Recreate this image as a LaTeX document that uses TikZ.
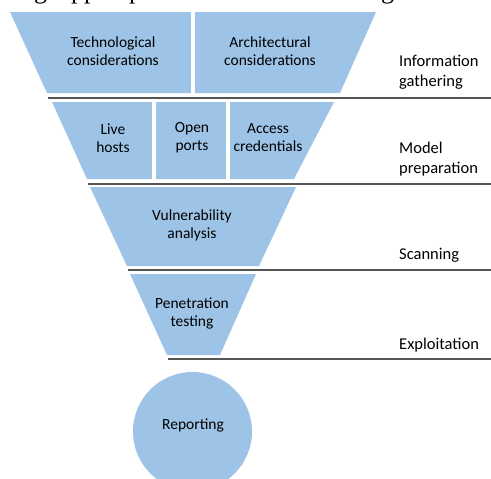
\documentclass[tikz,border=0pt]{standalone}
\usepackage{fontspec}
\setmainfont{Carlito}
\newfontfamily\serifglyph{Liberation Serif}
\definecolor{funnel}{HTML}{9DC3E6}
\definecolor{rulegray}{HTML}{555555}
\begin{document}
\begin{tikzpicture}[x=1pt,y=-1pt,
  seg/.style={fill=funnel, draw=none},
  gapline/.style={white, line width=4pt},
  sepline/.style={draw=rulegray, line width=1.7pt},
  lbl/.style={font=\fontsize{15.5}{18}\selectfont, align=center, inner sep=0pt},
  stage/.style={font=\fontsize{16.5}{20}\selectfont, align=left, anchor=west, inner sep=0pt},
  frag/.style={font=\serifglyph\fontsize{26}{30}\selectfont, anchor=base west, inner sep=0pt},
]
\useasboundingbox (0,0) rectangle (491,479);
\clip (0,0) rectangle (491,479);

% cropped line of text at the top
\node[frag] (f1) at (34,-1.6) {g};
\node[frag] (f2) at (71,-1.6) {p};
\node[frag] (f3) at (84,-1.6) {p};
\node[frag] (f4) at (129,-1.6) {p};
\node[frag] (f5) at (381,-1.6) {g};

% row 1
\fill[seg] (10,12) -- (376,12) -- (340,93) -- (47,93) -- cycle;
\draw[gapline] (193,10) -- (193,95);
\draw[sepline] (48,97.7) -- (491,97.7);
\node[lbl] (tech) at (113,51) {Technological\\considerations};
\node[lbl] (arch) at (270,51) {Architectural\\considerations};
\node[stage] (info) at (399,72) {Information\\gathering};

% row 2
\fill[seg] (52,102) -- (334,102) -- (294,179) -- (87,179) -- cycle;
\draw[gapline] (154,100) -- (154,181);
\draw[gapline] (228,100) -- (228,181);
\draw[sepline] (88,184) -- (491,184);
\node[lbl] (live) at (113,138) {Live\\hosts};
\node[lbl] (open) at (192,138) {Open\\ports};
\node[lbl] (acc) at (268,138) {Access\\credentials};
\node[stage] (model) at (399,159.5) {Model\\preparation};

% row 3
\fill[seg] (90,187) -- (296,187) -- (259,266) -- (127,266) -- cycle;
\draw[sepline] (128,270) -- (491,270);
\node[lbl] (vuln) at (192,225) {Vulnerability\\analysis};
\node[stage] (scan) at (399,255) {Scanning};

% row 4
\fill[seg] (130,274) -- (256,274) -- (220,355) -- (167,355) -- cycle;
\draw[sepline] (168,359) -- (491,359);
\node[lbl] (pen) at (192,313) {Penetration\\testing};
\node[stage] (expl) at (399,345) {Exploitation};

% reporting circle
\node[circle, fill=funnel, minimum size=119pt, inner sep=0pt] (repc) at (192.5,431.5) {};
\node[lbl] (rep) at (193,425) {Reporting};
\end{tikzpicture}
\end{document}
